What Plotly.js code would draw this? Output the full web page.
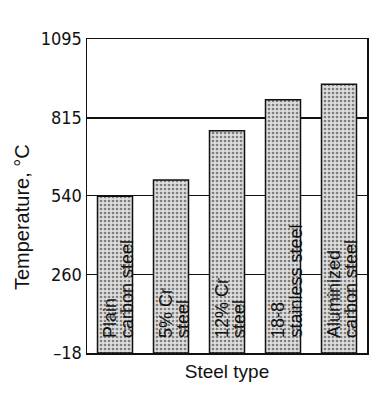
<!DOCTYPE html>
<html>
<head>
<meta charset="utf-8">
<script src="https://cdn.plot.ly/plotly-3.0.1.min.js"></script>
<style>html,body{margin:0;padding:0;background:#fff;}#chart{width:375px;height:397px;}</style>
</head>
<body>
<div id="chart"></div>
<script>
const categories = ['Plain carbon steel', '5% Cr steel', '12% Cr steel', '18-8 stainless steel', 'Aluminized carbon steel'];
const temperatures = [538, 595, 770, 880, 935];
const labelLine1 = ['Plain', '5% Cr', '12% Cr', '18-8', 'Aluminized'];
const labelLine2 = ['carbon steel', 'steel', 'steel', 'stainless steel', 'carbon steel'];
const tickVals = [-18, 260, 540, 815, 1095];
const tickText = ['\u201318', '260', '540', '815', '1095'];
const axisBase = -18;

const FONT = 'Liberation Sans, Arial, Helvetica, sans-serif';
const NARROW = 'Liberation Sans Narrow, Arial Narrow, DejaVu Sans Condensed, sans-serif';

const trace = {
  type: 'bar',
  x: categories,
  y: temperatures.map(v => v - axisBase),
  base: axisBase,
  marker: {
    color: '#d0d0d0',
    line: {color: '#111', width: 1.5},
    pattern: {shape: '.', bgcolor: '#dedede', fgcolor: '#7e7e7e', size: 4, solidity: 0.35}
  },
  hoverinfo: 'x+y'
};

const annotations = [];
categories.forEach((c, i) => {
  annotations.push({x: c, y: axisBase, xref: 'x', yref: 'y', text: labelLine1[i], showarrow: false,
    textangle: -90, xanchor: 'center', yanchor: 'bottom', xshift: -5, yshift: 13,
    font: {family: FONT, size: 18, color: '#111'}});
  annotations.push({x: c, y: axisBase, xref: 'x', yref: 'y', text: labelLine2[i], showarrow: false,
    textangle: -90, xanchor: 'center', yanchor: 'bottom', xshift: 12, yshift: 13,
    font: {family: FONT, size: 18, color: '#111'}});
});
annotations.push({x: -0.232, y: 0.433, xref: 'paper', yref: 'paper', text: 'Temperature, \u00B0C',
  showarrow: false, textangle: -90, xanchor: 'center', yanchor: 'middle',
  font: {family: FONT, size: 20, color: '#111'}});

const layout = {
  width: 375, height: 397,
  margin: {l: 87, r: 8, t: 39, b: 44},
  paper_bgcolor: '#fff', plot_bgcolor: '#fff',
  showlegend: false,
  bargap: 0.375,
  font: {family: FONT, color: '#111'},
  xaxis: {
    showticklabels: false, ticks: '',
    showline: true, linecolor: '#111', linewidth: 1.5, mirror: true,
    showgrid: false, zeroline: false,
    title: {text: 'Steel type', font: {family: FONT, size: 19, color: '#111'}, standoff: 11}
  },
  yaxis: {
    range: [-18, 1095],
    tickmode: 'array', tickvals: tickVals, ticktext: tickText,
    ticks: '',
    tickfont: {family: NARROW, size: 18, color: '#111'},
    showline: true, linecolor: '#111', linewidth: 1.5, mirror: true,
    showgrid: true, gridcolor: '#111', gridwidth: 1.5,
    zeroline: false
  },
  annotations: annotations
};

Plotly.newPlot('chart', [trace], layout, {staticPlot: true, displayModeBar: false});
</script>
</body>
</html>
